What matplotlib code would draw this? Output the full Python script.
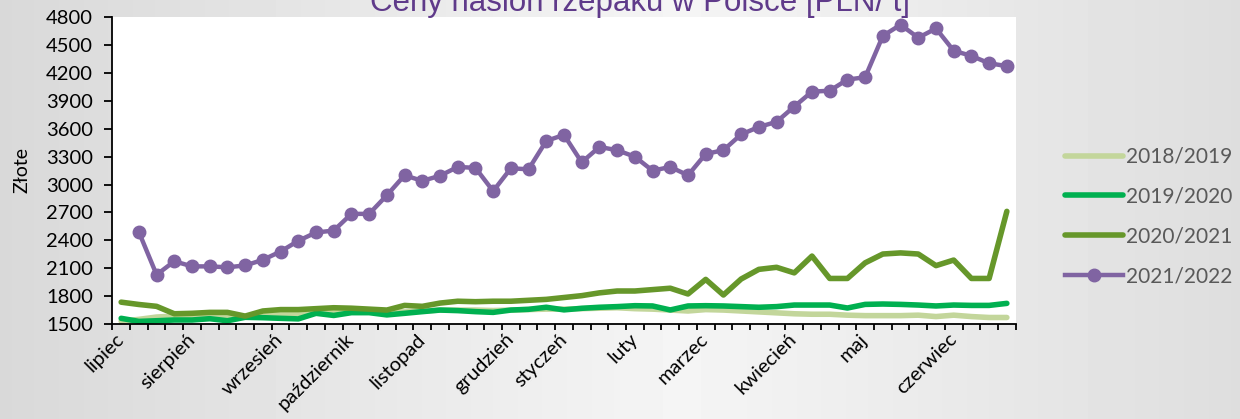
import numpy as np
import matplotlib.pyplot as plt

# week categories (marketing year July-June), month names shown on first week
months = ['lipiec', 'sierpień', 'wrzesień', 'październik', 'listopad', 'grudzień',
          'styczeń', 'luty', 'marzec', 'kwiecień', 'maj', 'czerwiec']
month_week = [0, 4, 9, 13, 17, 22, 25, 29, 33, 38, 42, 47]
n_weeks = 51

s_2018_19 = [1530, 1550, 1575, 1585, 1580, 1580, 1570, 1580, 1610, 1615,
             1615, 1620, 1625, 1630, 1635, 1630, 1630, 1640, 1650, 1650,
             1650, 1645, 1650, 1655, 1660, 1660, 1665, 1670, 1675, 1665,
             1660, 1650, 1640, 1655, 1650, 1640, 1630, 1620, 1610, 1605,
             1605, 1595, 1590, 1590, 1590, 1595, 1580, 1595, 1580, 1570,
             1570]
s_2019_20 = [1561, 1528, 1535, 1543, 1543, 1557, 1535, 1572, 1568, 1561,
             1555, 1615, 1592, 1622, 1622, 1598, 1615, 1633, 1650, 1644,
             1633, 1625, 1650, 1658, 1680, 1652, 1669, 1680, 1687, 1697,
             1694, 1651, 1694, 1697, 1694, 1687, 1680, 1687, 1704, 1704,
             1704, 1672, 1711, 1715, 1711, 1704, 1694, 1704, 1700, 1700,
             1722]
s_2020_21 = [1735, 1710, 1690, 1610, 1615, 1625, 1625, 1585, 1640, 1655,
             1655, 1665, 1675, 1670, 1660, 1650, 1700, 1690, 1725, 1745,
             1740, 1745, 1745, 1755, 1765, 1785, 1805, 1835, 1855, 1855,
             1870, 1885, 1823, 1980, 1812, 1984, 2088, 2110, 2050, 2231,
             1990, 1990, 2158, 2253, 2265, 2253, 2128, 2188, 1990, 1990,
             2712]
s_2021_22 = [np.nan, 2490, 2030, 2175, 2120, 2120, 2110, 2130, 2190, 2280,
             2395, 2485, 2505, 2685, 2685, 2885, 3100, 3040, 3095, 3190,
             3180, 2930, 3175, 3165, 3470, 3535, 3240, 3405, 3370, 3300,
             3150, 3190, 3100, 3330, 3370, 3540, 3620, 3675, 3840, 4000,
             4010, 4130, 4155, 4600, 4720, 4580, 4680, 4440, 4385, 4305,
             4275]
series_names = ['2018/2019', '2019/2020', '2020/2021', '2021/2022']

W, H = 1240, 419
fig = plt.figure(figsize=(W / 100, H / 100), dpi=100)

# grey gradient background like the slide
bg = fig.add_axes([0, 0, 1, 1], zorder=-10)
gx = np.linspace(0, 1, 400)
shade = 0.85 + 0.11 * np.clip(1 - np.abs(gx - 0.55) / 0.55, 0, 1)
bg.imshow(np.tile(shade, (10, 1)), cmap='gray', vmin=0, vmax=1, aspect='auto',
          extent=[0, 1, 0, 1])
bg.axis('off')

ax = fig.add_axes([112.3 / W, 1 - 324 / H, (1015.7 - 112.3) / W, (324 - 17.3) / H])
ax.set_facecolor('white')

x = np.arange(n_weeks)
ax.plot(x, s_2018_19, color='#C3D69B', lw=4, solid_capstyle='round', label=series_names[0])
ax.plot(x, s_2019_20, color='#00B050', lw=4, solid_capstyle='round', label=series_names[1])
ax.plot(x, s_2020_21, color='#66972A', lw=4, solid_capstyle='round', label=series_names[2])
ax.plot(x, s_2021_22, color='#8064A2', lw=3.2, marker='o', ms=9, label=series_names[3])

ax.set_xlim(-0.5, n_weeks - 0.5)
ax.set_ylim(1500, 4800)
ax.set_yticks(np.arange(1500, 4801, 300))
ax.set_xticks(np.arange(-0.5, n_weeks, 1), minor=True)
ax.set_xticks(month_week)
ax.set_xticklabels(months, rotation=45, ha='right', va='center', rotation_mode='anchor')

for s in ['top', 'right']:
    ax.spines[s].set_visible(False)
for s in ['left', 'bottom']:
    ax.spines[s].set_linewidth(1.3)
ax.tick_params(axis='y', length=6, width=1.3, pad=8, labelsize=14.5)
ax.tick_params(axis='x', which='major', length=0, pad=9, labelsize=14.5)
ax.tick_params(axis='x', which='minor', length=4, width=1.3)
for lab in ax.get_xticklabels() + ax.get_yticklabels():
    lab.set_fontfamily('Lato')

fig.text(22 / W, 1 - 170 / H, 'Złote', rotation=90, ha='center', va='center',
         fontsize=14, family='Lato')
fig.text(640 / W, 1 - 11 / H, 'Ceny nasion rzepaku w Polsce [PLN/ t]',
         ha='center', va='baseline', fontsize=22.5, color='#5F3A8A',
         family='Liberation Sans')

leg = ax.legend(loc='center left', bbox_to_anchor=(1.034, 0.35), frameon=False,
                handlelength=2.8, labelspacing=0.95, handletextpad=0.1,
                prop={'family': 'Lato', 'size': 15})
for t in leg.get_texts():
    t.set_color('#595959')

fig.savefig('out.png', dpi=100)
